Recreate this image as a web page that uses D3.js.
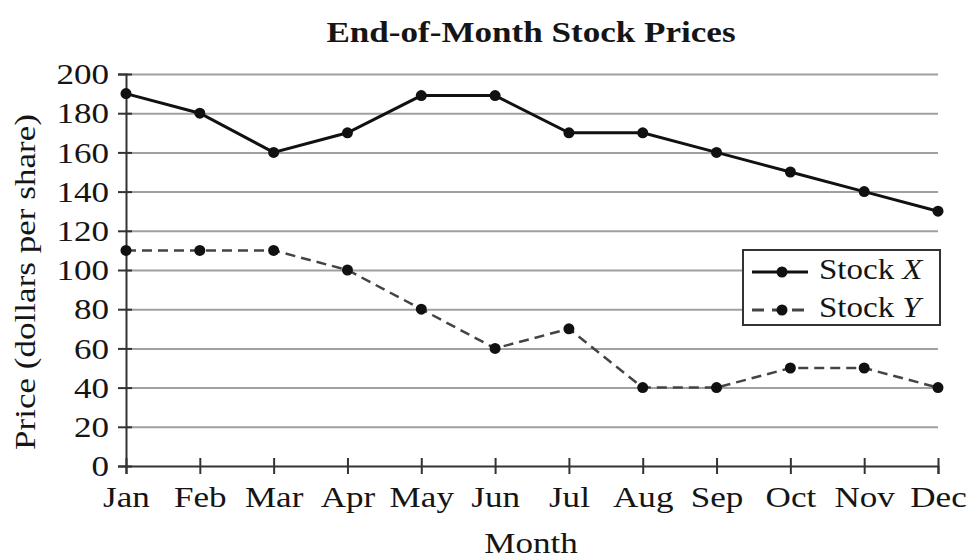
<!DOCTYPE html>
<html>
<head>
<meta charset="utf-8">
<script src="https://cdn.jsdelivr.net/npm/d3@7"></script>
<style>
  body { margin: 0; background: #fff; }
  text { font-family: "Liberation Serif", "Times New Roman", serif; fill: #151515; }
</style>
</head>
<body>
<script>
// chart size
var w = 969;
var h = 558;

// data
var months = ["Jan", "Feb", "Mar", "Apr", "May", "Jun", "Jul", "Aug", "Sep", "Oct", "Nov", "Dec"];
var stockX = [190, 180, 160, 170, 189, 189, 170, 170, 160, 150, 140, 130];
var stockY = [110, 110, 110, 100, 80, 60, 70, 40, 40, 50, 50, 40];
var yTicks = [0, 20, 40, 60, 80, 100, 120, 140, 160, 180, 200];

// plot box (don't call these top/left, they clash with window.top)
var plotL = 126, plotR = 938, plotT = 74, plotB = 466;
// the text in the picture runs wider than Liberation Serif
var sx = 1.17;

var svg = d3.select("body")
  .append("svg")
  .attr("width", w)
  .attr("height", h);

var x = d3.scalePoint()
  .domain(months)
  .range([plotL, plotR]);

var y = d3.scaleLinear()
  .domain([0, 200])
  .range([plotB, plotT]);

// horizontal grid lines
var grid = svg.append("g")
  .attr("transform", "translate(" + plotL + ",0)")
  .call(d3.axisLeft(y).tickValues(yTicks.slice(1)).tickSize(-(plotR - plotL)).tickFormat(""));
grid.select(".domain").remove();
grid.selectAll("line").attr("stroke", "#a0a0a0").attr("stroke-width", 2);

// y axis, ticks cross the axis line
var yAxis = svg.append("g")
  .attr("transform", "translate(" + plotL + ",0)")
  .call(d3.axisLeft(y).tickValues(yTicks).tickSize(8));
yAxis.select(".domain").attr("stroke", "#333").attr("stroke-width", 2);
yAxis.selectAll(".tick line").attr("x1", 6).attr("stroke", "#333").attr("stroke-width", 2);
yAxis.selectAll(".tick text")
  .style("font-size", "30px")
  .attr("fill", null)
  .attr("x", -17 / sx)
  .attr("transform", "scale(" + sx + ",1)");

// x axis
var xAxis = svg.append("g")
  .attr("transform", "translate(0," + plotB + ")")
  .call(d3.axisBottom(x).tickSize(8));
xAxis.select(".domain").attr("stroke", "#333").attr("stroke-width", 2);
xAxis.selectAll(".tick line").attr("y1", -8).attr("stroke", "#333").attr("stroke-width", 2);
xAxis.selectAll(".tick text")
  .style("font-size", "30px")
  .attr("fill", null)
  .attr("y", 41)
  .attr("dy", null)
  .attr("transform", "scale(" + sx + ",1)");

// lines
var line = d3.line()
  .x(function(d, i) { return x(months[i]); })
  .y(function(d) { return y(d); });

svg.append("path")
  .datum(stockY)
  .attr("d", line)
  .attr("fill", "none")
  .attr("stroke", "#444")
  .attr("stroke-width", 2.5)
  .attr("stroke-dasharray", "10,6");

svg.append("path")
  .datum(stockX)
  .attr("d", line)
  .attr("fill", "none")
  .attr("stroke", "#111")
  .attr("stroke-width", 3);

svg.selectAll("circle.x")
  .data(stockX)
  .enter()
  .append("circle")
  .attr("class", "x")
  .attr("cx", function(d, i) { return x(months[i]); })
  .attr("cy", function(d) { return y(d); })
  .attr("r", 5.5)
  .attr("fill", "#111");

svg.selectAll("circle.y")
  .data(stockY)
  .enter()
  .append("circle")
  .attr("class", "y")
  .attr("cx", function(d, i) { return x(months[i]); })
  .attr("cy", function(d) { return y(d); })
  .attr("r", 5.5)
  .attr("fill", "#111");

// title and axis labels
svg.append("text")
  .attr("transform", "translate(531,42) scale(1.17,1)")
  .attr("text-anchor", "middle")
  .style("font-size", "30px")
  .style("font-weight", "bold")
  .text("End-of-Month Stock Prices");

svg.append("text")
  .attr("transform", "translate(531,553) scale(" + sx + ",1)")
  .attr("text-anchor", "middle")
  .style("font-size", "30px")
  .text("Month");

svg.append("text")
  .attr("transform", "translate(35,282) rotate(-90) scale(" + sx + ",1)")
  .attr("text-anchor", "middle")
  .style("font-size", "30px")
  .text("Price (dollars per share)");

// legend
var legX = 743, legY = 250, legW = 197, legH = 75;
svg.append("rect")
  .attr("x", legX)
  .attr("y", legY)
  .attr("width", legW)
  .attr("height", legH)
  .attr("fill", "#fff")
  .attr("stroke", "#333")
  .attr("stroke-width", 2);

var legend = [
  { name: "X", dash: null, stroke: "#111" },
  { name: "Y", dash: "10,6", stroke: "#444" }
];

legend.forEach(function(d, i) {
  var ly = legY + 22 + i * 38;
  svg.append("line")
    .attr("x1", legX + 9)
    .attr("x2", legX + 65)
    .attr("y1", ly)
    .attr("y2", ly)
    .attr("stroke", d.stroke)
    .attr("stroke-width", 3)
    .attr("stroke-dasharray", d.dash ? "12,8" : null);
  svg.append("circle")
    .attr("cx", legX + 39)
    .attr("cy", ly)
    .attr("r", 5.5)
    .attr("fill", "#111");
  var t = svg.append("text")
    .attr("transform", "translate(" + (legX + 76) + "," + (ly + 7) + ") scale(1.1,1)")
    .style("font-size", "30px");
  t.append("tspan").text("Stock ");
  t.append("tspan").style("font-style", "italic").text(d.name);
});
</script>
</body>
</html>
